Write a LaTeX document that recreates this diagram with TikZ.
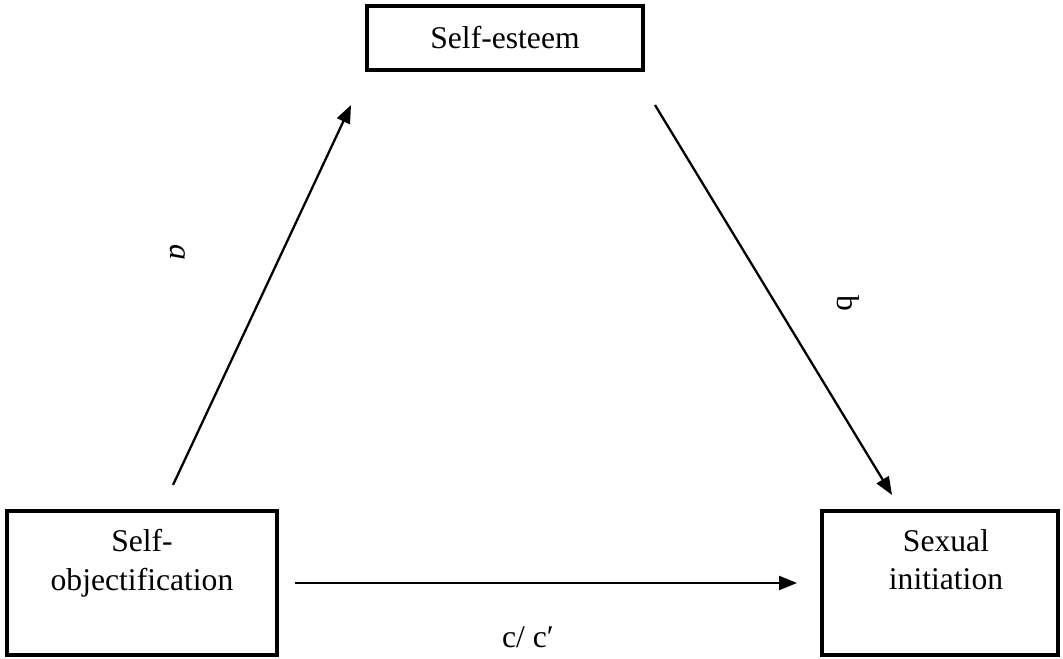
\documentclass[tikz,border=0pt]{standalone}
\usepackage{fontspec}
\setmainfont{Liberation Serif}
\usetikzlibrary{arrows.meta,calc}

\begin{document}
\begin{tikzpicture}[x=0.02cm,y=-0.02cm]
       \tikzstyle{every node}=[font=\fontsize{18}{22}\selectfont]
       \tikzstyle{varbox}=[draw, line width=2.3pt, inner sep=0pt]
       \tikzstyle{vartext}=[align=center, inner sep=0pt, anchor=north]
       \tikzstyle{effect}=[line width=1.3pt, -{Triangle[length=3.6mm,width=2.8mm]}]

   \useasboundingbox (0,0) rectangle (1063,659);

% mediator
   \node[varbox, minimum width=5.52cm, minimum height=1.28cm] (selfest) at (505,38) {Self-esteem};

% predictor
   \node[varbox, minimum width=5.4cm, minimum height=2.88cm] (selfobj) at (142,583) {};
   \node[vartext] (selfobjtext) at ($(selfobj.north)+(0,20)$) {Self-\\objectification};

% outcome
   \node[varbox, minimum width=4.72cm, minimum height=2.88cm] (sexinit) at (940,583) {};
   \node[vartext] (sexinittext) at ($(sexinit.north)+(6,20)$) {Sexual\\initiation};

% paths a, b and c/c'
   \draw[effect] ($(selfobj.north)+(31,-24)$) -- ($(selfest.south west)+(-14,33)$);
   \node[rotate=-90] (alabel) at (178,252) {\textit{a}};

   \draw[effect] ($(selfest.south east)+(10,33)$) -- ($(sexinit.north)+(-48,-14)$);
   \node[rotate=-90] (blabel) at (848,303) {b};

   \draw[effect, shorten <=0.32cm, shorten >=0.46cm] (selfobj.east) -- (sexinit.west);
   \node (clabel) at (528,637) {c/ c′};

\end{tikzpicture}
\end{document}
